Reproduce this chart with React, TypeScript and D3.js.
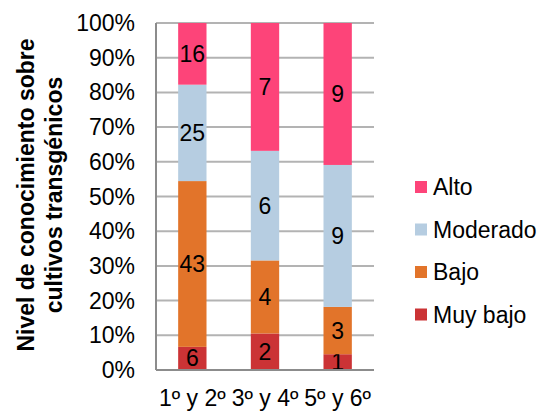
import React from "react";
import * as d3 from "d3";

const categories = ["1º y 2º", "3º y 4º", "5º y 6º"];
const seriesNames = ["Muy bajo", "Bajo", "Moderado", "Alto"];
const muyBajo = [6, 2, 1];
const bajo = [43, 4, 3];
const moderado = [25, 6, 9];
const alto = [16, 7, 9];
const colors = ["#CB3335", "#E2742A", "#B6CDE1", "#FD4479"];
const yTicks = [0, 0.1, 0.2, 0.3, 0.4, 0.5, 0.6, 0.7, 0.8, 0.9, 1];

export default function App() {
  const W = 548, H = 412;
  const left = 156, right = 374, top = 23, bottom = 370;
  const font = "Arial, 'Liberation Sans', sans-serif";
  const fs = 23;
  const x = d3.scaleBand<string>().domain(categories).range([left, right]).paddingInner(0.61).paddingOuter(0.305);
  const y = d3.scaleLinear().domain([0, 1]).range([bottom, top]);
  const table = categories.map((c, i) => ({
    cat: c,
    "Muy bajo": muyBajo[i],
    Bajo: bajo[i],
    Moderado: moderado[i],
    Alto: alto[i],
  }));
  const stack = d3.stack<any>().keys(seriesNames).offset(d3.stackOffsetExpand);
  const layers = stack(table);
  const legendOrder = [3, 2, 1, 0];
  return (
    <svg width={W} height={H} style={{ position: "absolute", left: 0, top: 0 }} fontFamily={font}>
      <rect width={W} height={H} fill="#fff" />
      {yTicks.map((t) => (
        <g key={t}>
          {t > 0 && <line x1={left} x2={right} y1={y(t)} y2={y(t)} stroke="#B3B3B3" strokeWidth={2} />}
          <text x={135} y={y(t)} dy="0.35em" textAnchor="end" fontSize={fs} fill="#000">
            {d3.format(".0%")(t)}
          </text>
        </g>
      ))}
      {layers.map((layer, si) =>
        layer.map((d, i) => {
          const y0 = y(d[0]), y1 = y(d[1]);
          const bx = x(categories[i])!;
          return (
            <g key={si + "-" + i}>
              <rect x={bx} y={y1} width={x.bandwidth()} height={y0 - y1} fill={colors[si]} />
              <text x={bx + x.bandwidth() / 2} y={(y0 + y1) / 2} dy="0.35em" textAnchor="middle" fontSize={fs} fill="#000">
                {(d.data as any)[seriesNames[si]]}
              </text>
            </g>
          );
        })
      )}
      <line x1={left} x2={left} y1={top} y2={bottom} stroke="#8C8C8C" strokeWidth={2} />
      <line x1={left} x2={right} y1={bottom} y2={bottom} stroke="#8C8C8C" strokeWidth={2} />
      {categories.map((c) => (
        <text key={c} x={x(c)! + x.bandwidth() / 2} y={406} textAnchor="middle" fontSize={fs} fill="#000">
          {c}
        </text>
      ))}
      <g transform="translate(26,195) rotate(-90)">
        <text x={0} y={0} dy="0.35em" textAnchor="middle" fontSize={fs} fontWeight="bold" fill="#000">
          Nivel de conocimiento sobre
        </text>
        <text x={0} y={28} dy="0.35em" textAnchor="middle" fontSize={fs} fontWeight="bold" fill="#000">
          cultivos transgénicos
        </text>
      </g>
      {legendOrder.map((si, k) => {
        const cy = 187 + k * 42.5;
        return (
          <g key={si}>
            <rect x={415} y={cy - 6} width={12} height={12} fill={colors[si]} />
            <text x={433} y={cy} dy="0.35em" fontSize={fs} fill="#000">
              {seriesNames[si]}
            </text>
          </g>
        );
      })}
    </svg>
  );
}
